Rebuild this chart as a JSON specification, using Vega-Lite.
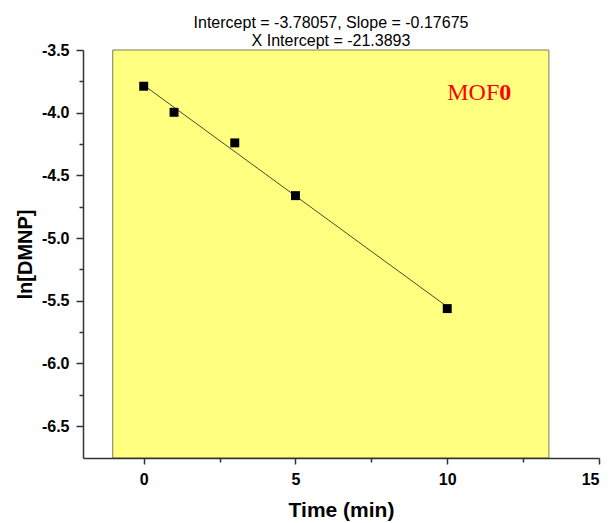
{
  "$schema": "https://vega.github.io/schema/vega-lite/v6.json",
  "width": 516,
  "height": 408,
  "autosize": {"type": "none"},
  "padding": {"left": 83, "top": 50, "right": 14, "bottom": 65},
  "background": "white",
  "config": {"view": {"stroke": null}, "font": "Liberation Sans"},
  "title": {
    "text": ["Intercept = -3.78057, Slope = -0.17675", "X Intercept = -21.3893"],
    "fontSize": 16,
    "fontWeight": "normal",
    "font": "Liberation Sans",
    "color": "black",
    "lineHeight": 18.4,
    "anchor": "middle",
    "dx": -10,
    "dy": 8,
    "offset": 1
  },
  "datasets": {
    "points": [
      {"time": 0, "ln": -3.789},
      {"time": 1, "ln": -3.997},
      {"time": 3, "ln": -4.241},
      {"time": 5, "ln": -4.662},
      {"time": 10, "ln": -5.563}
    ],
    "fit": [
      {"time": 0, "ln": -3.78057},
      {"time": 10, "ln": -5.54807}
    ]
  },
  "layer": [
    {
      "data": {"values": [{}]},
      "mark": {"type": "rect", "fill": "#FFFF80", "stroke": "#7d7d5a", "strokeWidth": 1},
      "encoding": {
        "x": {"datum": -1.02, "type": "quantitative", "scale": {"domain": [-2, 15], "nice": false, "zero": false}, "axis": null},
        "x2": {"datum": 13.35},
        "y": {"datum": -3.5, "type": "quantitative", "scale": {"domain": [-6.755, -3.5], "nice": false, "zero": false}, "axis": null},
        "y2": {"datum": -6.755}
      }
    },
    {
      "data": {"name": "fit"},
      "mark": {"type": "line", "color": "#4a4a2a", "strokeWidth": 1},
      "encoding": {
        "x": {"field": "time", "type": "quantitative", "scale": {"domain": [-2, 15], "nice": false, "zero": false},
          "axis": {"values": [2.5, 7.5, 12.5], "labels": false, "domain": false, "tickSize": 4, "tickWidth": 1.5, "tickColor": "#333333", "title": null, "grid": false, "orient": "bottom", "zindex": 1}},
        "y": {"field": "ln", "type": "quantitative", "scale": {"domain": [-6.755, -3.5], "nice": false, "zero": false},
          "axis": {"values": [-3.75, -4.25, -4.75, -5.25, -5.75, -6.25], "labels": false, "domain": false, "tickSize": 4, "tickWidth": 1.5, "tickColor": "#333333", "title": null, "grid": false, "orient": "left", "zindex": 1}}
      }
    },
    {
      "data": {"name": "points"},
      "mark": {"type": "point", "shape": "square", "filled": true, "color": "black", "size": 80, "opacity": 1},
      "encoding": {
        "x": {"field": "time", "type": "quantitative", "scale": {"domain": [-2, 15], "nice": false, "zero": false},
          "axis": {"values": [0, 5, 10, 15], "format": "d", "orient": "bottom", "grid": false, "zindex": 1,
            "domainColor": "#333333", "domainWidth": 1.5, "tickColor": "#333333", "tickWidth": 1.5, "tickSize": 6,
            "labelFontSize": 16, "labelFontWeight": "bold", "labelColor": "black", "labelPadding": 7, "labelFont": "Liberation Sans",
            "title": "Time (min)", "titleFontSize": 21, "titleFontWeight": "bold", "titleColor": "black", "titlePadding": 12, "titleFont": "Liberation Sans"}},
        "y": {"field": "ln", "type": "quantitative", "scale": {"domain": [-6.755, -3.5], "nice": false, "zero": false},
          "axis": {"values": [-3.5, -4.0, -4.5, -5.0, -5.5, -6.0, -6.5], "format": ".1f", "labelExpr": "replace(datum.label, '\u2212', '-')", "orient": "left", "grid": false, "zindex": 1,
            "domainColor": "#333333", "domainWidth": 1.5, "tickColor": "#333333", "tickWidth": 1.5, "tickSize": 7,
            "labelFontSize": 16, "labelFontWeight": "bold", "labelColor": "black", "labelPadding": 7, "labelFont": "Liberation Sans",
            "title": "ln[DMNP]", "titleFontSize": 20, "titleFontWeight": "bold", "titleColor": "black", "titlePadding": 6, "titleFont": "Liberation Sans"}}
      }
    },
    {
      "data": {"values": [{}]},
      "mark": {"type": "text", "text": "MOF", "font": "Liberation Serif", "fontSize": 24, "color": "#FF0000", "align": "left", "baseline": "alphabetic"},
      "encoding": {
        "x": {"datum": 10, "type": "quantitative", "axis": null},
        "y": {"datum": -3.895, "type": "quantitative", "axis": null}
      }
    },
    {
      "data": {"values": [{}]},
      "mark": {"type": "text", "text": "0", "font": "Liberation Serif", "fontSize": 24, "fontWeight": "bold", "color": "#FF0000", "align": "left", "baseline": "alphabetic", "dx": 52},
      "encoding": {
        "x": {"datum": 10, "type": "quantitative", "axis": null},
        "y": {"datum": -3.895, "type": "quantitative", "axis": null}
      }
    }
  ],
  "resolve": {"axis": {"x": "independent", "y": "independent"}}
}
